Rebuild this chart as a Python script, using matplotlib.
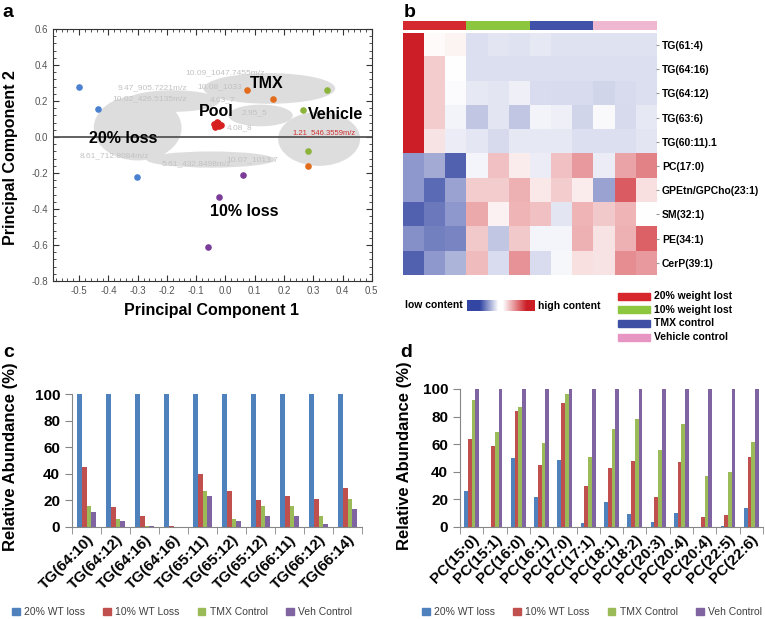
import numpy as np
import matplotlib.pyplot as plt
from matplotlib.colors import LinearSegmentedColormap, ListedColormap
from matplotlib.patches import Ellipse, Patch
from matplotlib.ticker import AutoMinorLocator, MultipleLocator

plt.rcParams['font.family'] = ['Liberation Sans', 'DejaVu Sans']

# -------------------------------
# data: panel a (PCA scores)
# -------------------------------
loss20_pc1 = [-0.500, -0.435, -0.302]
loss20_pc2 = [0.277, 0.157, -0.223]
loss10_pc1 = [0.060, -0.022, -0.059]
loss10_pc2 = [-0.210, -0.333, -0.609]
tmx_pc1 = [0.073, 0.162, 0.282]
tmx_pc2 = [0.264, 0.212, -0.160]
veh_pc1 = [0.346, 0.266, 0.283]
veh_pc2 = [0.264, 0.149, -0.075]
pool_pc1 = [-0.040, -0.030, -0.022, -0.036, -0.026, -0.016, -0.032]
pool_pc2 = [0.072, 0.085, 0.062, 0.056, 0.078, 0.066, 0.066]

loading_labels = [
    ("10.09_1047.7455m/z", 0.00, 0.355),
    ("9.47_905.7221m/z", -0.25, 0.272),
    ("10.02_426.5135m/z", -0.26, 0.212),
    ("10.08_1033", -0.02, 0.28),
    ("4.63_7", -0.01, 0.21),
    ("2.95_5", 0.10, 0.135),
    ("4.08_8", 0.05, 0.05),
    ("10.07_1013.7", 0.09, -0.125),
    ("5.61_432.8498m/z", -0.10, -0.15),
    ("8.61_712.8084m/z", -0.38, -0.105),
]

# -------------------------------
# data: panel b (heatmap)
# -------------------------------
hm_rows = ["TG(61:4)", "TG(64:16)", "TG(64:12)", "TG(63:6)", "TG(60:11).1",
           "PC(17:0)", "GPEtn/GPCho(23:1)", "SM(32:1)", "PE(34:1)", "CerP(39:1)"]
hm_vals = [
    [1.0, 0.02, 0.05, -0.17, -0.14, -0.15, -0.12, -0.15, -0.15, -0.15, -0.15, -0.15],
    [1.0, 0.22, 0.0, -0.17, -0.17, -0.17, -0.17, -0.17, -0.17, -0.17, -0.17, -0.17],
    [1.0, 0.22, -0.02, -0.12, -0.14, -0.08, -0.18, -0.19, -0.19, -0.22, -0.19, -0.17],
    [1.0, 0.22, -0.06, -0.30, -0.14, -0.30, -0.06, -0.08, -0.22, -0.03, -0.20, -0.12],
    [1.0, 0.12, -0.10, -0.13, -0.20, -0.12, -0.12, -0.12, -0.17, -0.17, -0.17, -0.14],
    [-0.55, -0.45, -0.85, -0.05, 0.28, 0.08, -0.10, 0.28, 0.45, -0.10, 0.40, 0.55],
    [-0.55, -0.80, -0.50, 0.22, 0.22, 0.35, 0.10, 0.22, 0.08, -0.50, 0.72, 0.14],
    [-0.85, -0.72, -0.55, 0.38, 0.06, 0.33, 0.28, -0.14, 0.33, 0.24, 0.33, 0.0],
    [-0.60, -0.68, -0.65, 0.24, -0.30, 0.24, -0.05, -0.05, 0.35, 0.12, 0.35, 0.70],
    [-0.85, -0.55, -0.40, 0.30, -0.18, 0.48, -0.18, -0.04, 0.14, 0.12, 0.50, 0.45],
]
hm_groups = ["20% weight lost", "10% weight lost", "TMX control", "Vehicle control"]
hm_group_of_col = [0, 0, 0, 1, 1, 1, 2, 2, 2, 3, 3, 3]

# -------------------------------
# data: panels c and d (bars)
# -------------------------------
bar_series = ["20% WT loss", "10% WT Loss", "TMX Control", "Veh Control"]

tg_labels = ["TG(64:10)", "TG(64:12)", "TG(64:16)", "TG(64:16)", "TG(65:11)",
             "TG(65:12)", "TG(65:12)", "TG(66:11)", "TG(66:12)", "TG(66:14)"]
tg_20 = [100, 100, 100, 100, 100, 100, 100, 100, 100, 100]
tg_10 = [45, 15, 8.5, 1, 40, 27, 20, 23, 21, 29]
tg_tmx = [15.5, 6, 1, 0, 27, 6, 16, 15.5, 8, 21]
tg_veh = [11, 4.5, 1, 0, 23, 4.5, 8.5, 8, 2.5, 13.5]

pc_labels = ["PC(15:0)", "PC(15:1)", "PC(16:0)", "PC(16:1)", "PC(17:0)", "PC(17:1)",
             "PC(18:1)", "PC(18:2)", "PC(20:3)", "PC(20:4)", "PC(20:4)", "PC(22:5)", "PC(22:6)"]
pc_20 = [26, 0, 50, 22, 48.5, 3, 18, 9.5, 3.5, 10, 0, 0.5, 14]
pc_10 = [63.5, 58.5, 84, 45, 89.5, 30, 42.5, 47.5, 22, 47, 7.5, 9, 51]
pc_tmx = [92, 69, 87, 61, 96.5, 51, 71, 78, 55.5, 75, 37, 39.5, 61.5]
pc_veh = [100, 100, 100, 100, 100, 100, 100, 100, 100, 100, 100, 100, 100]

bar_colors = ['#4f81bd', '#c0504d', '#9bbb59', '#8064a2']

fig = plt.figure(figsize=(7.65, 6.19), dpi=100)

# -------------------------------
# panel a
# -------------------------------
ax = fig.add_axes([0.069, 0.546, 0.417, 0.407])
ax.set_xlim(-0.59, 0.5)
ax.set_ylim(-0.8, 0.6)

# grey cloud of overlapping loading labels
for (cx, cy, w, h) in [(-0.30, 0.05, 0.30, 0.36), (-0.18, 0.20, 0.32, 0.12),
                       (-0.05, -0.125, 0.44, 0.09), (0.15, 0.27, 0.45, 0.17),
                       (0.32, -0.01, 0.28, 0.30), (0.12, 0.12, 0.22, 0.12)]:
    ax.add_patch(Ellipse((cx, cy), w, h, facecolor='#dddddd', edgecolor='none', zorder=1))
for txt, x, y in loading_labels:
    ax.text(x, y, txt, fontsize=6, color='#c2c2c2', ha='center', va='center', zorder=1.5)

ax.axhline(0, color='#555555', lw=1.3, zorder=2)

ax.scatter(loss20_pc1, loss20_pc2, s=14, color='#4a80d0', zorder=3)
ax.scatter(loss10_pc1, loss10_pc2, s=14, color='#7b3c98', zorder=3)
ax.scatter(tmx_pc1, tmx_pc2, s=14, color='#e36b1c', zorder=3)
ax.scatter(veh_pc1, veh_pc2, s=14, color='#8cb33a', zorder=3)
ax.scatter(pool_pc1, pool_pc2, s=14, color='#d62020', zorder=3)

lab = dict(fontsize=11.5, fontweight='bold', ha='center', va='center', zorder=4)
ax.text(0.14, 0.30, "TMX", **lab)
ax.text(-0.03, 0.142, "Pool", **lab)
ax.text(0.375, 0.124, "Vehicle", **lab)
ax.text(-0.35, -0.008, "20% loss", **lab)
ax.text(0.065, -0.415, "10% loss", **lab)
ax.text(0.338, 0.025, "1.21_546.3559m/z", fontsize=5.5, color='#d03030',
        ha='center', va='center', zorder=4)

xt = np.round(np.arange(-0.5, 0.51, 0.1), 1) + 0.0
yt = np.round(np.arange(-0.8, 0.61, 0.2), 1) + 0.0
ax.set_xticks(xt)
ax.set_xticklabels([f"{abs(v):.1f}" if abs(v) < 1e-9 else f"{v:.1f}" for v in xt])
ax.set_yticks(yt)
ax.set_yticklabels([f"{abs(v):.1f}" if abs(v) < 1e-9 else f"{v:.1f}" for v in yt])
ax.xaxis.set_minor_locator(AutoMinorLocator(5))
ax.yaxis.set_minor_locator(AutoMinorLocator(5))
ax.tick_params(which='both', direction='in', top=True, right=True, labelsize=7,
               labelcolor='#555555', color='#333333')
ax.tick_params(which='major', length=4)
ax.tick_params(which='minor', length=2)
for s in ax.spines.values():
    s.set_color('#333333')
fig.text(212 / 765, 1 - 310 / 619, "Principal Component 1", fontsize=11.5,
         fontweight='bold', ha='center', va='center')
fig.text(11 / 765, 1 - 158 / 619, "Principal Component 2", fontsize=11.5,
         fontweight='bold', ha='center', va='center', rotation=90)

# -------------------------------
# panel b
# -------------------------------
hm_cmap = LinearSegmentedColormap.from_list('lowhigh', ['#3346a3', '#ffffff', '#cc1e26'])
axb = fig.add_axes([0.527, 0.556, 0.331, 0.391])
axb.imshow(hm_vals, cmap=hm_cmap, vmin=-1, vmax=1, aspect='auto', interpolation='nearest')
axb.yaxis.tick_right()
axb.set_yticks(range(len(hm_rows)))
axb.set_yticklabels(hm_rows, fontsize=7.5, fontweight='bold')
axb.set_xticks([])
axb.tick_params(axis='y', length=2, color='#999999', pad=2)
for s in axb.spines.values():
    s.set_visible(False)

bar_group_colors = ['#d42a2f', '#8cc63f', '#3f51a8', '#efb8d0']
axg = fig.add_axes([0.527, 1 - 30 / 619, 0.331, 9 / 619])
axg.imshow([hm_group_of_col], cmap=ListedColormap(bar_group_colors), vmin=-0.5, vmax=3.5,
           aspect='auto', interpolation='nearest')
axg.axis('off')

# colour key
key_cmap = LinearSegmentedColormap.from_list(
    'key', [(0, '#3346a3'), (0.19, '#3346a3'), (0.46, '#ffffff'), (0.53, '#ffffff'),
            (0.88, '#cc1e26'), (1, '#cc1e26')])
axk = fig.add_axes([467 / 765, 1 - 311 / 619, 68 / 765, 11 / 619])
axk.imshow([np.linspace(0, 1, 200)], cmap=key_cmap, aspect='auto')
axk.axis('off')
fig.text(405 / 765, 1 - 305 / 619, "low content", fontsize=7.5, fontweight='bold',
         ha='left', va='center')
fig.text(538 / 765, 1 - 306 / 619, "high content", fontsize=7.5, fontweight='bold',
         ha='left', va='center')

legend_group_colors = ['#d7262c', '#8dc63f', '#3f4fa3', '#e795c3']
for i, (name, col) in enumerate(zip(hm_groups, legend_group_colors)):
    yc = 1 - (296 + 13.7 * i) / 619
    fig.patches.append(plt.Rectangle((618 / 765, yc - 3.5 / 619), 32 / 765, 7 / 619,
                                     transform=fig.transFigure, color=col))
    fig.text(654 / 765, yc, name, fontsize=7.5, fontweight='bold', ha='left', va='center')


# -------------------------------
# panels c and d
# -------------------------------
def grouped_bars(ax, labels, series):
    x = np.arange(len(labels))
    w = 0.16
    for k, (vals, col) in enumerate(zip(series, bar_colors)):
        ax.bar(x + (k - 1.5) * w, vals, w, color=col, zorder=2)
    ax.set_xlim(-0.5, len(labels) - 0.5)
    ax.set_ylim(0, 100)
    ax.set_yticks(range(0, 101, 20))
    ax.set_xticks(x)
    ax.set_xticklabels(labels, rotation=45, ha='right', rotation_mode='anchor',
                       fontsize=11, fontweight='bold')
    ax.set_xticks(np.arange(-0.5, len(labels)), minor=True)
    ax.tick_params(axis='x', which='major', length=0, pad=4)
    ax.tick_params(axis='x', which='minor', length=5, color='#868686')
    ax.tick_params(axis='y', length=5, color='#868686', labelsize=11)
    for t in ax.get_yticklabels():
        t.set_fontweight('bold')
    for s in ['top', 'right']:
        ax.spines[s].set_visible(False)
    for s in ['left', 'bottom']:
        ax.spines[s].set_color('#868686')
    ax.set_ylabel("Relative Abundance (%)", fontsize=12, fontweight='bold')


axc = fig.add_axes([72 / 765, 1 - 527 / 619, 290 / 765, 133 / 619])
grouped_bars(axc, tg_labels, [tg_20, tg_10, tg_tmx, tg_veh])
axc.yaxis.set_label_coords(-0.186, 0.53)

axd = fig.add_axes([460 / 765, 1 - 527 / 619, 303 / 765, 138 / 619])
grouped_bars(axd, pc_labels, [pc_20, pc_10, pc_tmx, pc_veh])
axd.yaxis.set_label_coords(-0.158, 0.52)

handles = [Patch(color=c, label=n) for c, n in zip(bar_colors, bar_series)]
for cx in [182 / 765, 592 / 765]:
    leg = fig.legend(handles=handles, loc='center', bbox_to_anchor=(cx, 1 - 612 / 619),
                     ncol=4, fontsize=7.5, frameon=False, handlelength=0.7,
                     handleheight=0.7, handletextpad=0.4, columnspacing=1.8)
    for t in leg.get_texts():
        t.set_color('#404040')

# panel letters
for letter, x, y in [('a', 2, 4), ('b', 404, 4), ('c', 3, 344), ('d', 400, 344)]:
    fig.text(x / 765, 1 - y / 619, letter, fontsize=14, fontweight='bold', va='top', ha='left')

fig.savefig('out.png', dpi=100)
